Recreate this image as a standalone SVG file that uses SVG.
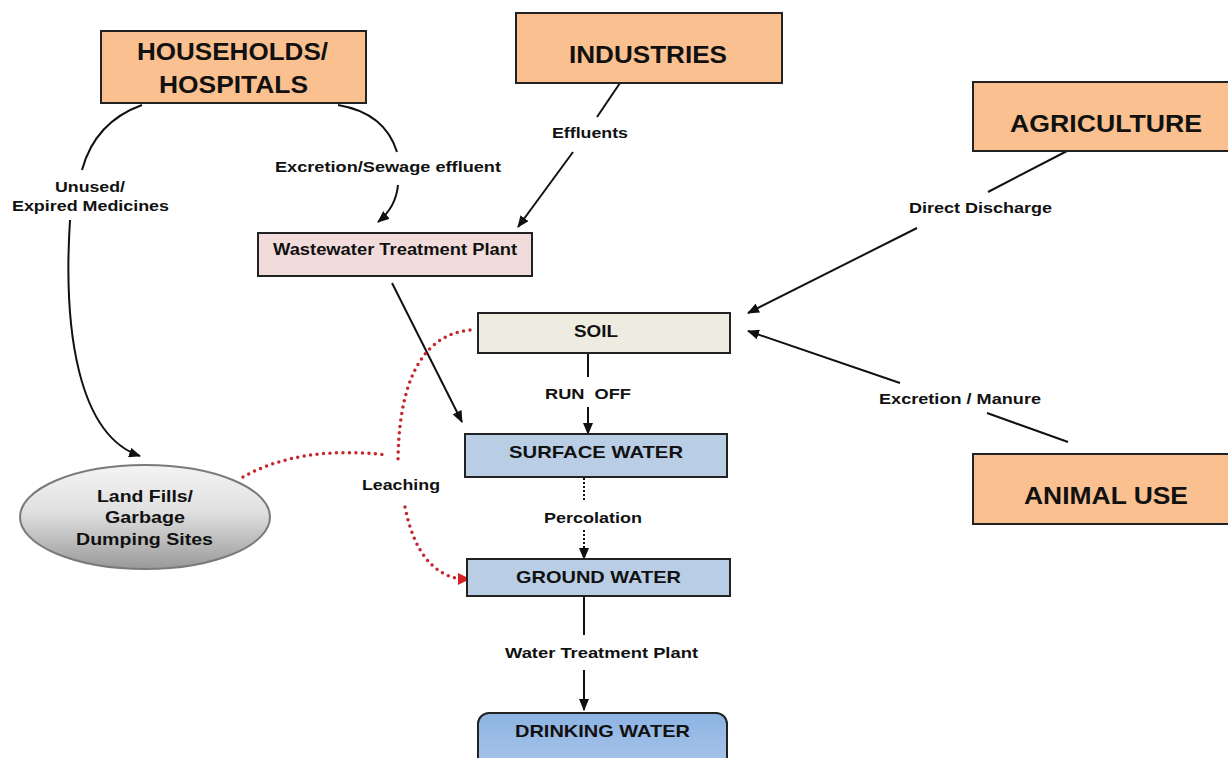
<svg xmlns="http://www.w3.org/2000/svg" width="1228" height="758" viewBox="0 0 1228 758">
<style>
.box{stroke:#222;stroke-width:2}
.src{fill:#fac090}
.big{font-family:"Liberation Sans",Arial,sans-serif;font-weight:bold;font-size:23px;fill:#111}
.mid{font-family:"Liberation Sans",Arial,sans-serif;font-weight:bold;font-size:17px;fill:#111}
.lbl{font-family:"Liberation Sans",Arial,sans-serif;font-weight:bold;font-size:15px;fill:#111}
.ln{fill:none;stroke:#111;stroke-width:2}
.dot{fill:none;stroke:#111;stroke-width:2;stroke-dasharray:2 2}
.red{fill:none;stroke:#c3262b;stroke-width:3.5;stroke-dasharray:0 6.5;stroke-linecap:round}
</style>
<defs>
<marker id="ah" markerUnits="userSpaceOnUse" markerWidth="12" markerHeight="10" refX="11" refY="5" orient="auto"><path d="M0,0 L12,5 L0,10 z" fill="#111"/></marker>
<marker id="ahr" markerUnits="userSpaceOnUse" markerWidth="12" markerHeight="12" refX="11" refY="6" orient="auto"><path d="M0,0 L12,6 L0,12 z" fill="#d42020"/></marker>
<linearGradient id="gEll" x1="0" y1="0" x2="0" y2="1"><stop offset="0" stop-color="#f4f4f4"/><stop offset="0.45" stop-color="#e0e0e0"/><stop offset="1" stop-color="#999"/></linearGradient>
<linearGradient id="gDrink" x1="0" y1="0" x2="0" y2="1"><stop offset="0" stop-color="#8db3e2"/><stop offset="1" stop-color="#a9c5ea"/></linearGradient>
</defs>

<g id="connectors">
<path class="ln" d="M142,105 Q95,122 82,170"/>
<path class="ln" d="M70,220 C63,330 78,435 140,456" marker-end="url(#ah)"/>
<path class="ln" d="M338,105 Q385,113 397,152"/>
<path class="ln" d="M398,185 Q396,207 378,222" marker-end="url(#ah)"/>
<path class="ln" d="M620,83 L597,117"/>
<path class="ln" d="M573,152 L518,227" marker-end="url(#ah)"/>
<path class="ln" d="M392,283 L462,422" marker-end="url(#ah)"/>
<path class="ln" d="M1067,151 L988,192"/>
<path class="ln" d="M917,228 L748,313" marker-end="url(#ah)"/>
<path class="ln" d="M1068,442 L987,413"/>
<path class="ln" d="M900,383 L748,331" marker-end="url(#ah)"/>
<path class="ln" d="M588,353 L588,377"/>
<path class="ln" d="M588,407 L588,434" marker-end="url(#ah)"/>
<path class="dot" d="M584,478 L584,502"/>
<path class="dot" d="M584,530 L584,559" marker-end="url(#ah)"/>
<path class="ln" d="M584,596 L584,635"/>
<path class="ln" d="M584,670 L584,710" marker-end="url(#ah)"/>
<path class="red" d="M243,477 Q300,445 387,455"/>
<path class="red" d="M470,330 C420,335 398,385 398,465"/>
<path class="red" d="M405,507 Q418,572 460,579"/>
<path d="M460,579 L469,579" stroke="none" fill="none" marker-end="url(#ahr)"/>
<text class="lbl" x="275" y="172" textLength="226" lengthAdjust="spacingAndGlyphs">Excretion/Sewage effluent</text>
<text class="lbl" x="552" y="138" textLength="76" lengthAdjust="spacingAndGlyphs">Effluents</text>
<text class="lbl" x="909" y="213" textLength="143" lengthAdjust="spacingAndGlyphs">Direct Discharge</text>
<text class="lbl" x="879" y="404" textLength="162" lengthAdjust="spacingAndGlyphs">Excretion / Manure</text>
<text class="lbl" x="55" y="192" textLength="70" lengthAdjust="spacingAndGlyphs">Unused/</text>
<text class="lbl" x="12" y="211" textLength="157" lengthAdjust="spacingAndGlyphs">Expired Medicines</text>
<text class="lbl" x="362" y="490" textLength="78" lengthAdjust="spacingAndGlyphs">Leaching</text>
<text class="lbl" x="545" y="399" textLength="86" lengthAdjust="spacingAndGlyphs" xml:space="preserve" style="white-space:pre">RUN  OFF</text>
<text class="lbl" x="544" y="523" textLength="98" lengthAdjust="spacingAndGlyphs">Percolation</text>
<text class="lbl" x="505" y="658" textLength="193" lengthAdjust="spacingAndGlyphs">Water Treatment Plant</text>
</g>

<g id="households">
<rect class="box src" x="101" y="31" width="265" height="72"/>
<text class="big" x="137" y="60" textLength="191" lengthAdjust="spacingAndGlyphs">HOUSEHOLDS/</text>
<text class="big" x="159" y="93" textLength="149" lengthAdjust="spacingAndGlyphs">HOSPITALS</text>
</g>
<g id="industries">
<rect class="box src" x="516" y="13" width="266" height="70"/>
<text class="big" x="569" y="63" textLength="158" lengthAdjust="spacingAndGlyphs">INDUSTRIES</text>
</g>
<g id="agriculture">
<rect class="box src" x="973" y="82" width="262" height="69"/>
<text class="big" x="1010" y="132" textLength="192" lengthAdjust="spacingAndGlyphs">AGRICULTURE</text>
</g>
<g id="animal-use">
<rect class="box src" x="973" y="454" width="262" height="70"/>
<text class="big" x="1024" y="504" textLength="164" lengthAdjust="spacingAndGlyphs">ANIMAL USE</text>
</g>
<g id="wwtp">
<rect class="box" x="258" y="233" width="274" height="43" fill="#f2dcdb"/>
<text class="mid" x="273" y="255" style="font-size:16px" textLength="244" lengthAdjust="spacingAndGlyphs">Wastewater Treatment Plant</text>
</g>
<g id="soil">
<rect class="box" x="478" y="313" width="252" height="40" fill="#eeece1"/>
<text class="mid" x="574" y="337" textLength="44" lengthAdjust="spacingAndGlyphs">SOIL</text>
</g>
<g id="surface-water">
<rect class="box" x="465" y="434" width="262" height="43" fill="#b9cde5"/>
<text class="mid" x="509" y="458" textLength="174" lengthAdjust="spacingAndGlyphs">SURFACE WATER</text>
</g>
<g id="ground-water">
<rect class="box" x="467" y="559" width="263" height="37" fill="#b9cde5"/>
<text class="mid" x="516" y="583" textLength="165" lengthAdjust="spacingAndGlyphs">GROUND WATER</text>
</g>
<g id="drinking-water">
<rect class="box" x="478" y="713" width="249" height="56" rx="11" fill="url(#gDrink)"/>
<text class="mid" x="515" y="737" textLength="175" lengthAdjust="spacingAndGlyphs">DRINKING WATER</text>
</g>
<g id="landfills">
<ellipse cx="145" cy="517" rx="125" ry="52" fill="url(#gEll)" stroke="#7a7a7a" stroke-width="2"/>
<text class="lbl" x="97" y="502" style="font-size:17px" textLength="96" lengthAdjust="spacingAndGlyphs">Land Fills/</text>
<text class="lbl" x="105" y="523" style="font-size:17px" textLength="80" lengthAdjust="spacingAndGlyphs">Garbage</text>
<text class="lbl" x="76" y="545" style="font-size:17px" textLength="137" lengthAdjust="spacingAndGlyphs">Dumping Sites</text>
</g>
</svg>
